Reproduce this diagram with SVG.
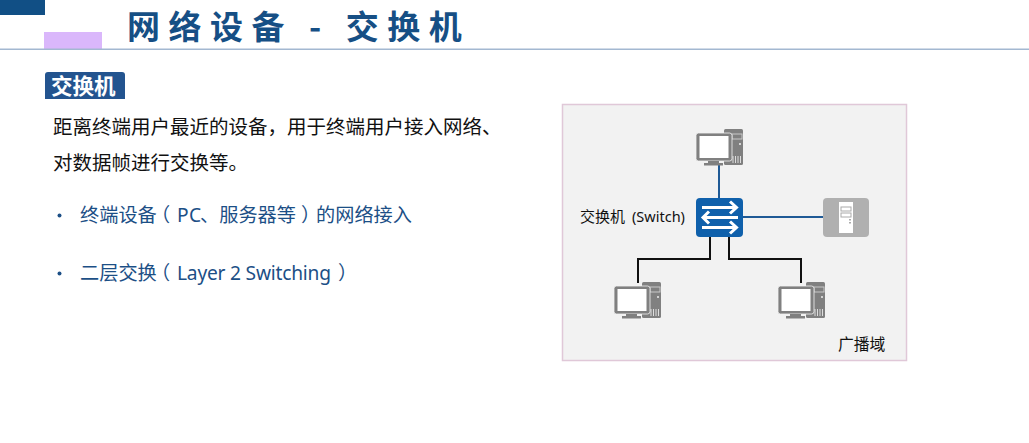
<svg xmlns="http://www.w3.org/2000/svg" width="1029" height="443" viewBox="0 0 1029 443">
<style>
text{font-family:"Noto Sans CJK SC","Noto Sans",sans-serif}
.lat{font-family:"Noto Sans",sans-serif}
.body{font-size:19.5px;fill:#111}
.bul{font-size:19.2px;fill:#1c4f86}
.lbl{font-size:15px;fill:#111}
.wire{fill:none;stroke-width:2}
</style>
<defs>
<g id="pc">
<rect x="28" y="0" width="19" height="36" rx="1.500" fill="#808080"/>
<rect x="36" y="5" width="10" height="5" fill="none" stroke="#c8c8c8" stroke-width="1"/>
<circle cx="44" cy="15" r="1" fill="#eee"/>
<path d="M37 27v7M39.500 27v7M42 27v7M44.500 27v7" stroke="#ddd" stroke-width="1"/>
<rect x="0" y="4" width="36" height="28" rx="2.500" fill="#808080" stroke="#f2f2f2" stroke-width=".8"/>
<rect x="3.500" y="7" width="29" height="22" fill="#fff"/>
<rect x="12" y="32" width="11" height="2" fill="#808080"/>
<rect x="8" y="34" width="19" height="2.500" fill="#808080"/>
</g>
</defs>
<rect width="1029" height="443" fill="#fff"/>
<g id="header">
<rect x="0" y="0" width="45" height="15" fill="#114f85"/>
<rect x="44" y="32" width="58" height="17" fill="#dab7fb"/>
<rect x="0" y="48.500" width="1029" height="1.500" fill="#a3b8d1"/>
<text x="127" y="39" font-size="33" font-weight="700" letter-spacing="8.500" fill="#164f85">网络设备 - 交换机</text>
</g>
<g id="section-tag">
<path d="M45 99V75a3 3 0 0 1 3-3h74a3 3 0 0 1 3 3v24z" fill="#23548f"/>
<text x="51" y="94" font-size="21.500" font-weight="700" fill="#fff">交换机</text>
</g>
<g id="description">
<text class="body" x="53" y="134">距离终端用户最近的设备，用于终端用户接入网络、</text>
<text class="body" x="53" y="170">对数据帧进行交换等。</text>
</g>
<g id="bullets">
<circle cx="59.500" cy="215.500" r="2" fill="#1c4f86"/>
<text class="bul" y="222" x="80 99.200 118.400 137.600 151 177 189 200 219.200 238.400 257.600 276.800 301 316 335.200 354.400 373.600 392.800">终端设备（<tspan class="lat">PC</tspan>、服务器等）的网络接入</text>
<circle cx="59.500" cy="273.500" r="2" fill="#1c4f86"/>
<text class="bul" y="280"><tspan x="80 99.200 118.400 137.600 151">二层交换（</tspan><tspan class="lat" x="177" textLength="154">Layer 2 Switching</tspan><tspan x="338">）</tspan></text>
</g>
<g id="panel">
<rect x="562.500" y="104.500" width="344" height="256" fill="#f2f2f2" stroke="#e0c8d8" stroke-width="1.500"/>
</g>
<g id="connectors">
<path class="wire" stroke="#1f5a96" d="M719 164V198M743 217H824"/>
<path class="wire" stroke="#111" d="M710 236V259H638V283M729 236V259H801V283"/>
</g>
<g id="pc-top"><use href="#pc" x="696" y="129"/></g>
<g id="pc-left"><use href="#pc" x="614" y="282"/></g>
<g id="pc-right"><use href="#pc" x="778" y="282"/></g>
<g id="switch">
<rect x="696" y="198" width="47" height="39" rx="4" fill="#0f60ab"/>
<path d="M702 207.500H735M703 217.500H738M702 227.500H735" stroke="#fff" stroke-width="3" fill="none"/>
<path d="M730 201.500L736.500 207.500L730 213.500M709 211.500L703 217.500L709 223.500M730 221.500L736.500 227.500L730 233.500" fill="none" stroke="#fff" stroke-width="3"/>
</g>
<g id="server">
<rect x="823" y="198" width="46" height="39" rx="4" fill="#b0b0b0"/>
<rect x="839" y="202" width="14" height="31" fill="#fff"/>
<rect x="841" y="207" width="10" height="4" fill="none" stroke="#aaa"/>
<rect x="841" y="213" width="10" height="4" fill="none" stroke="#aaa"/>
<rect x="849" y="219" width="2" height="1.500" fill="#aaa"/><rect x="849" y="222" width="2" height="1.500" fill="#aaa"/>
</g>
<g id="labels">
<text class="lbl" y="222"><tspan x="580">交换机</tspan><tspan class="lat" x="632" font-size="14.500">(Switch)</tspan></text>
<text class="lbl" x="838" y="350" style="font-size:15.800px">广播域</text>
</g>
</svg>
